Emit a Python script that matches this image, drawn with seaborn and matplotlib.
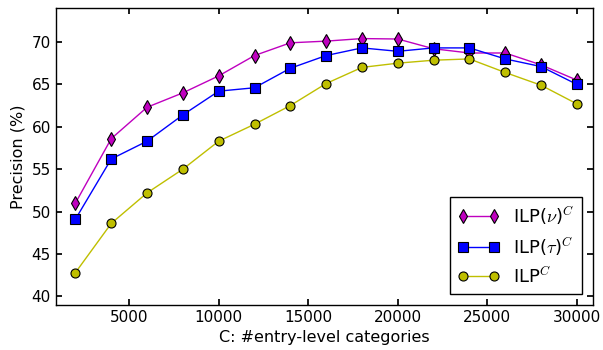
import matplotlib
matplotlib.use("Agg")
import matplotlib.pyplot as plt
import seaborn as sns

# entry-level categories (x) and precision values
categories = [2000, 4000, 6000, 8000, 10000, 12000, 14000, 16000,
              18000, 20000, 22000, 24000, 26000, 28000, 30000]
ilp_nu = [51.0, 58.6, 62.3, 64.0, 66.0, 68.4, 69.9, 70.1,
          70.4, 70.35, 69.2, 68.7, 68.7, 67.3, 65.5]
ilp_tau = [49.1, 56.2, 58.3, 61.4, 64.2, 64.6, 66.9, 68.4,
           69.3, 68.9, 69.3, 69.3, 68.0, 67.1, 65.0]
ilp_plain = [42.8, 48.6, 52.2, 55.0, 58.3, 60.3, 62.5, 65.1,
             67.0, 67.5, 67.85, 68.0, 66.4, 64.9, 62.7]
labels = [r"ILP($\nu$)$^C$", r"ILP($\tau$)$^C$", r"ILP$^C$"]
yticks = [40, 45, 50, 55, 60, 65, 70]
xticks = [5000, 10000, 15000, 20000, 25000, 30000]

sns.set_theme(style="ticks", rc={
    "xtick.direction": "in", "ytick.direction": "in",
    "xtick.top": True, "ytick.right": True,
    "xtick.major.size": 4, "ytick.major.size": 4,
    "axes.edgecolor": "black", "axes.linewidth": 1.0,
    "text.color": "black", "axes.labelcolor": "black",
    "xtick.color": "black", "ytick.color": "black",
    "mathtext.fontset": "cm",
})
plt.rcParams["font.family"] = ["DejaVu Sans"]

fig = plt.figure(figsize=(6.03, 3.5), dpi=100)
ax = fig.add_axes([0.0924, 0.129, 0.891, 0.848])

series = [(ilp_nu, "#bf00bf", "d", 7.5),
          (ilp_tau, "#0000ff", "s", 6.5),
          (ilp_plain, "#bfbf00", "o", 6.5)]
for (vals, col, mk, ms), lab in zip(series, labels):
    sns.lineplot(x=categories, y=vals, ax=ax, color=col, marker=mk,
                 markersize=ms, markeredgecolor="black", markeredgewidth=0.8,
                 linewidth=1.0, label=lab)

ax.set_xlim(900, 30900)
ax.set_ylim(39, 74)
ax.set_xticks(xticks)
ax.set_yticks(yticks)
ax.tick_params(labelsize=11)
ax.set_xlabel("C: #entry-level categories", fontsize=11.5)
ax.set_ylabel("Precision (%)", fontsize=11.5)

leg = ax.legend(loc="lower right", numpoints=2, fontsize=13, fancybox=False,
                framealpha=1, edgecolor="black", handlelength=2.3,
                borderaxespad=0.6)
leg.get_frame().set_linewidth(1.0)

fig.savefig("out.png", dpi=100)
